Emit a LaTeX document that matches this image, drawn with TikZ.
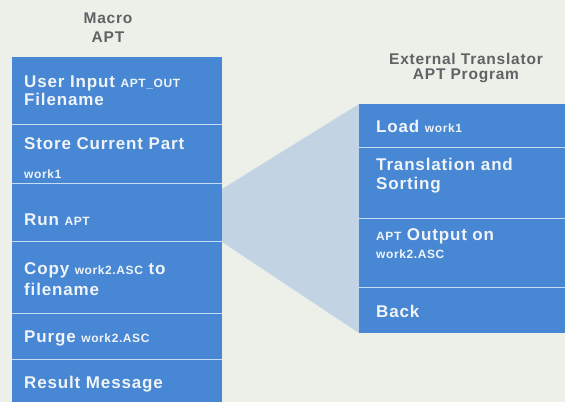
\documentclass[tikz,border=0pt]{standalone}
\usepackage{fontspec}
\setmainfont[LetterSpace=5]{Liberation Sans}
\definecolor{bg}{HTML}{EDF0E9}
\definecolor{boxblue}{HTML}{4787D3}
\definecolor{divcol}{HTML}{C4DCF2}
\definecolor{trapcol}{HTML}{C2D4E3}
\definecolor{txtcol}{HTML}{F0F4F8}
\definecolor{titlecol}{HTML}{606264}
\newcommand\smtxt[1]{{\fontsize{12}{14}\selectfont #1}}
\begin{document}
\begin{tikzpicture}[x=1pt,y=-1pt,
  box/.style={rectangle, fill=boxblue, draw=none, inner sep=0pt, anchor=north west},
  divider/.style={draw=divcol, line width=1.6pt},
  txt/.style={anchor=base west, inner sep=0pt, text=txtcol, font=\fontsize{17}{20}\selectfont\bfseries},
  ttl/.style={anchor=base, inner sep=0pt, text=titlecol, font=\fontsize{15.5}{18}\selectfont\bfseries}]
\useasboundingbox[fill=bg] (0,0) rectangle (565,402);
% shaded fan
\fill[trapcol] (222,189) -- (359,104) -- (359,333) -- (222,242) -- cycle;
% titles
\node[ttl] (tm1) at (108,23) {Macro};
\node[ttl] (tm2) at (108,42) {APT};
\node[ttl] (te1) at (466,64) {External Translator};
\node[ttl] (te2) at (466,79) {APT Program};
% left column boxes
\node[box, minimum width=210pt, minimum height=67pt] (b1) at (12,57) {};
\node[box, minimum width=210pt, minimum height=59pt] (b2) at (12,124) {};
\node[box, minimum width=210pt, minimum height=58pt] (b3) at (12,183) {};
\node[box, minimum width=210pt, minimum height=72pt] (b4) at (12,241) {};
\node[box, minimum width=210pt, minimum height=46pt] (b5) at (12,313) {};
\node[box, minimum width=210pt, minimum height=43pt] (b6) at (12,359) {};
\draw[divider] (b1.south west) -- (b1.south east);
\draw[divider] (b2.south west) -- (b2.south east);
\draw[divider] (b3.south west) -- (b3.south east);
\draw[divider] (b4.south west) -- (b4.south east);
\draw[divider] (b5.south west) -- (b5.south east);
% right column boxes
\node[box, minimum width=206pt, minimum height=43pt] (r1) at (359,104) {};
\node[box, minimum width=206pt, minimum height=71pt] (r2) at (359,147) {};
\node[box, minimum width=206pt, minimum height=69pt] (r3) at (359,218) {};
\node[box, minimum width=206pt, minimum height=46pt] (r4) at (359,287) {};
\draw[divider] (r1.south west) -- (r1.south east);
\draw[divider] (r2.south west) -- (r2.south east);
\draw[divider] (r3.south west) -- (r3.south east);
% left texts
\node[txt] (l1a) at (24,87) {User Input \smtxt{APT\_OUT}};
\node[txt] (l1b) at (24,105) {Filename};
\node[txt] (l2a) at (24,149) {Store Current Part};
\node[txt] (l2b) at (24,178) {\smtxt{work1}};
\node[txt] (l3a) at (24,225) {Run \smtxt{APT}};
\node[txt] (l4a) at (24,274) {Copy \smtxt{work2.ASC} to};
\node[txt] (l4b) at (24,295) {filename};
\node[txt] (l5a) at (24,342) {Purge \smtxt{work2.ASC}};
\node[txt] (l6a) at (24,388) {Result Message};
% right texts
\node[txt] (m1a) at (376,132) {Load \smtxt{work1}};
\node[txt] (m2a) at (376,170) {Translation and};
\node[txt] (m2b) at (376,189) {Sorting};
\node[txt] (m3a) at (376,240) {\smtxt{APT} Output on};
\node[txt] (m3b) at (376,258) {\smtxt{work2.ASC}};
\node[txt] (m4a) at (376,317) {Back};
\end{tikzpicture}
\end{document}
